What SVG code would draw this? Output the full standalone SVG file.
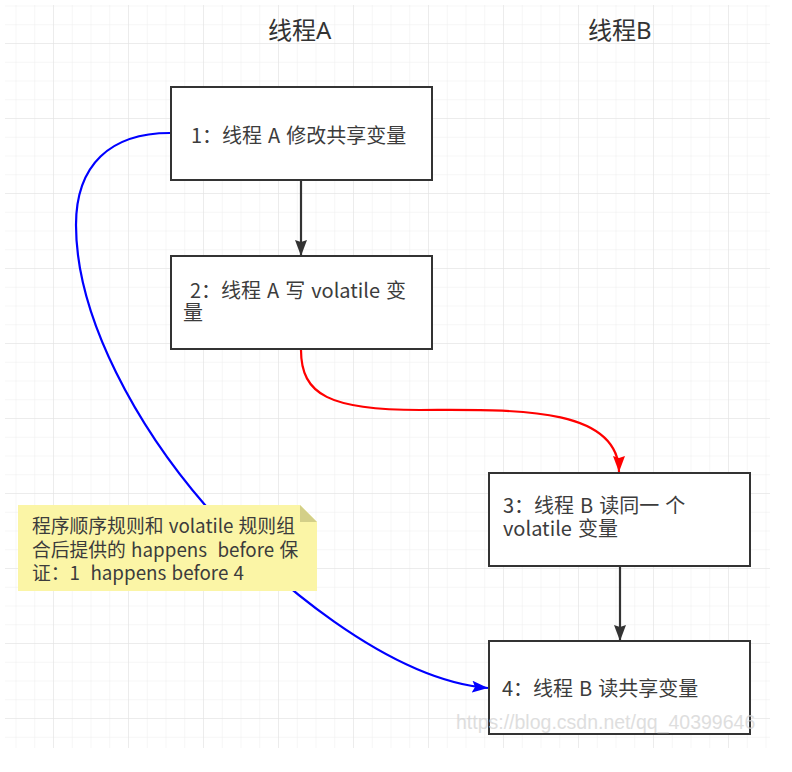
<svg xmlns="http://www.w3.org/2000/svg" width="792" height="772" viewBox="0 0 792 772">
<style>
  .box { fill:#ffffff; stroke:#333333; stroke-width:2; }
  .t { font-family:"Noto Sans CJK SC","Noto Sans",sans-serif; fill:#3c3c3c; font-size:20px; word-spacing:1.5px; }
  .n { font-family:"Noto Sans CJK SC","Noto Sans",sans-serif; fill:#3c3c3c; font-size:18.8px; word-spacing:1px; }
  .title { font-family:"Noto Sans","Noto Sans CJK SC",sans-serif; fill:#333333; font-size:24px; }
  .edge { fill:none; stroke-width:2.2; }
  .wm { font-family:"Liberation Sans",Arial,sans-serif; font-size:19.5px; fill:#d4d4d4; opacity:0.75; }
</style>
<defs>
  <pattern id="minor" width="18.75" height="18.75" patternUnits="userSpaceOnUse" x="53" y="43">
    <path d="M0 0 H18.75 M0 0 V18.75" fill="none" stroke="#ededed" stroke-width="1"/>
  </pattern>
  <pattern id="major" width="75" height="75" patternUnits="userSpaceOnUse" x="53" y="43">
    <path d="M0 0 H75 M0 0 V75" fill="none" stroke="#e2e2e2" stroke-width="1"/>
  </pattern>
  <marker id="arrBlack" markerUnits="userSpaceOnUse" markerWidth="18" markerHeight="12" refX="16" refY="6" orient="auto">
    <path d="M0,0 L16,6 L0,12 L2,6 z" fill="#333333"/>
  </marker>
  <marker id="arrRed" markerUnits="userSpaceOnUse" markerWidth="18" markerHeight="12" refX="16" refY="6" orient="auto">
    <path d="M0,0 L16,6 L0,12 L2,6 z" fill="#ff0000"/>
  </marker>
  <marker id="arrBlue" markerUnits="userSpaceOnUse" markerWidth="18" markerHeight="12" refX="16" refY="6" orient="auto">
    <path d="M0,0 L16,6 L0,12 L3,6 z" fill="#0000ff"/>
  </marker>
</defs>
<rect width="792" height="772" fill="#ffffff"/>
<rect x="5" y="5" width="765" height="743" fill="url(#minor)"/>
<rect x="5" y="5" width="765" height="743" fill="url(#major)"/>

<g id="title-a"><text class="title" x="268" y="39">线程A</text></g>
<g id="title-b"><text class="title" x="588" y="39">线程B</text></g>

<g id="connectors">
  <path class="edge" d="M301,180 L301,256" stroke="#333333" marker-end="url(#arrBlack)"/>
  <path class="edge" d="M620,566 L620,641" stroke="#333333" marker-end="url(#arrBlack)"/>
  <path class="edge" d="M301,350 C301,395 330,410 420,410 C510,410 619,405 619,472" stroke="#ff0000" stroke-width="2.5" marker-end="url(#arrRed)"/>
  <path class="edge" d="M170,133 C110,133 76,165 76,225 C76,320 140,430 205,505 C270,580 390,680 488,688" stroke="#0000ff" stroke-width="2.5" marker-end="url(#arrBlue)"/>
</g>

<g id="node1">
  <rect class="box" x="171" y="87" width="261" height="93"/>
  <text class="t" x="191" y="143">1：线程 A 修改共享变量</text>
</g>
<g id="node2">
  <rect class="box" x="171" y="256" width="261" height="93"/>
  <text class="t" x="190" y="298">2：线程 A 写 volatile 变</text>
  <text class="t" x="183" y="320">量</text>
</g>
<g id="node3">
  <rect class="box" x="489" y="473" width="261" height="93"/>
  <text class="t" x="503" y="513">3：线程 B 读同一 个</text>
  <text class="t" x="503" y="536">volatile 变量</text>
</g>
<g id="node4">
  <rect class="box" x="489" y="641" width="261" height="93"/>
  <text class="t" x="502" y="696">4：线程 B 读共享变量</text>
</g>

<g id="note">
  <path d="M18,505 H300 L317,522 V591 H18 Z" fill="#fbf5a6"/>
  <path d="M300,505 L317,522 H300 Z" fill="#d3cf88"/>
  <text class="n" x="32" y="533">程序顺序规则和 volatile 规则组</text>
  <text class="n" x="32" y="557" xml:space="preserve">合后提供的 happens  before 保</text>
  <text class="n" x="32" y="580" xml:space="preserve">证：1  happens before 4</text>
</g>

<text class="wm" x="456" y="729">https://blog.csdn.net/qq_40399646</text>
</svg>
